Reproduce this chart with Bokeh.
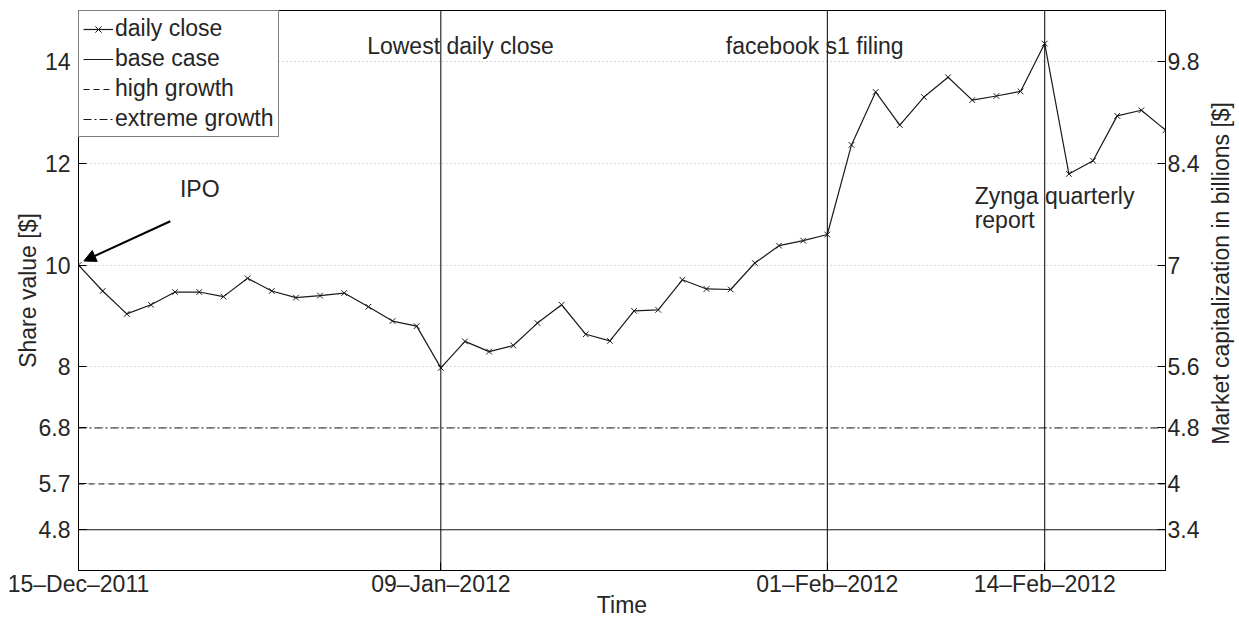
import math
import pandas as pd
from bokeh.plotting import figure
from bokeh.layouts import row
from bokeh.models import (Range1d, LinearAxis, FixedTicker, CustomJSTickFormatter,
                          Legend, LegendItem, Span, Label, Arrow, NormalHead)
from bokeh.embed import file_html
from bokeh.resources import INLINE

# ---------------- data ----------------
holidays = ["2011-12-26", "2012-01-02", "2012-01-16", "2012-02-20"]
dates = pd.bdate_range("2011-12-15", "2012-02-22", freq="C", holidays=holidays)

daily_close = [10.00, 9.49, 9.04, 9.22, 9.47, 9.47, 9.38, 9.74, 9.49, 9.36,
               9.40, 9.45, 9.18, 8.90, 8.80, 7.98, 8.50, 8.30, 8.42, 8.86,
               9.22, 8.64, 8.51, 9.10, 9.12, 9.71, 9.53, 9.52, 10.04, 10.38,
               10.48, 10.60, 12.36, 13.40, 12.75, 13.30, 13.69, 13.24, 13.32, 13.41,
               14.35, 11.79, 12.05, 12.93, 13.04, 12.65]

x_tick_dates = ["2011-12-15", "2012-01-09", "2012-02-01", "2012-02-14"]
x_tick_labels = ["15\u2013Dec\u20132011", "09\u2013Jan\u20132012",
                 "01\u2013Feb\u20132012", "14\u2013Feb\u20132012"]

event_dates = ["2012-01-09", "2012-02-01", "2012-02-14"]

scenario_names = ["base case", "high growth", "extreme growth"]
scenario_values = [4.8, 5.7, 6.8]

left_ticks = [4.8, 5.7, 6.8, 8, 10, 12, 14]
left_tick_labels = ["4.8", "5.7", "6.8", "8", "10", "12", "14"]
right_tick_labels = ["3.4", "4", "4.8", "5.6", "7", "8.4", "9.8"]
shares_billion = 0.7  # market cap (billions) per $ of share value

# ---------------- derived ----------------
x = list(range(len(daily_close)))
x_ticks = [dates.get_loc(pd.Timestamp(d)) for d in x_tick_dates]
events = [dates.get_loc(pd.Timestamp(d)) for d in event_dates]

FONT = "Liberation Sans"
FS = "23px"
TXT = "#262626"
H = 620

p = figure(width=1205, height=H, output_backend="svg", toolbar_location=None,
           x_range=Range1d(0, len(x) - 1), y_range=Range1d(4, 15),
           min_border_left=78, min_border_right=40, min_border_top=10, min_border_bottom=48)
p.extra_y_ranges = {"cap": Range1d(4 * shares_billion, 15 * shares_billion)}

p.outline_line_color = "black"
p.outline_line_width = 1
p.background_fill_color = "white"
p.border_fill_color = "white"

# grid
p.xgrid.visible = False
p.ygrid.ticker = FixedTicker(ticks=left_ticks)
p.ygrid.grid_line_color = "#b0b0b0"
p.ygrid.grid_line_dash = "1 3"
p.ygrid.grid_line_width = 1

def style_axis(ax):
    ax.axis_line_color = "black"
    ax.major_tick_line_color = "black"
    ax.major_tick_in = 8
    ax.major_tick_out = 0
    ax.minor_tick_line_color = None
    ax.major_label_text_font = FONT
    ax.major_label_text_font_size = FS
    ax.major_label_text_color = TXT
    ax.axis_label_text_font = FONT
    ax.axis_label_text_font_size = FS
    ax.axis_label_text_color = TXT
    ax.axis_label_text_font_style = "normal"

# x axis
xa = p.xaxis[0]
style_axis(xa)
xa.ticker = FixedTicker(ticks=x_ticks)
xa.formatter = CustomJSTickFormatter(args=dict(labels=x_tick_labels),
                                     code="return labels[index];")
xa.axis_label = "Time"
xa.major_label_standoff = 0
xa.axis_label_standoff = -8

# left axis
ya = p.yaxis[0]
style_axis(ya)
ya.ticker = FixedTicker(ticks=left_ticks)
ya.formatter = CustomJSTickFormatter(args=dict(labels=left_tick_labels),
                                     code="return labels[index];")
ya.axis_label = "Share value [$]"
ya.major_label_standoff = 8
ya.axis_label_standoff = -5

# right axis
ra = LinearAxis(y_range_name="cap")
style_axis(ra)
ra.ticker = FixedTicker(ticks=[v * shares_billion for v in left_ticks])
ra.formatter = CustomJSTickFormatter(args=dict(labels=right_tick_labels),
                                     code="return labels[index];")
ra.major_label_standoff = 2
p.add_layout(ra, "right")

# scenario lines
dashes = ["solid", "6 4", "8 3 2 3"]
scen_renderers = []
for v, d in zip(scenario_values, dashes):
    r = p.line(x=[x[0], x[-1]], y=[v, v], line_color="#1a1a1a", line_width=1, line_dash=d)
    scen_renderers.append(r)

# event lines
for e in events:
    p.add_layout(Span(location=e, dimension="height", line_color="black", line_width=1))

# daily close
l1 = p.line(x=x, y=daily_close, line_color="#1a1a1a", line_width=1.2)
s1 = p.scatter(x=x, y=daily_close, marker="x", size=8, line_color="#1a1a1a", line_width=1)

# annotations
def lab(xv, yv, t):
    p.add_layout(Label(x=xv, y=yv, text=t, text_font=FONT, text_font_size=FS,
                       text_color=TXT, text_baseline="middle", text_align="left"))

lab(11.95, 14.3, "Lowest daily close")
lab(26.8, 14.3, "facebook s1 filing")
lab(37.1, 11.35, "Zynga quarterly")
lab(37.1, 10.88, "report")
lab(4.2, 11.49, "IPO")
p.add_layout(Arrow(end=NormalHead(size=12, fill_color="black", line_color="black"),
                   x_start=3.8, y_start=10.86, x_end=0.22, y_end=10.08,
                   line_color="black", line_width=2))

# legend
items = [LegendItem(label="daily close", renderers=[l1, s1])]
for n, r in zip(scenario_names, scen_renderers):
    items.append(LegendItem(label=n, renderers=[r]))
legend = Legend(items=items, location="top_left", margin=0, padding=4,
                spacing=3, glyph_width=30, glyph_height=22, label_standoff=2,
                label_text_font=FONT, label_text_font_size=FS, label_text_color=TXT,
                border_line_color="black", border_line_width=1,
                background_fill_color="white", background_fill_alpha=1)
p.add_layout(legend)

# right-hand axis title (reads bottom-to-top), drawn in a narrow strip
p2 = figure(width=30, height=H, output_backend="svg", toolbar_location=None,
            x_range=Range1d(0, 1), y_range=Range1d(0, 1), min_border=0)
p2.axis.visible = False
p2.grid.visible = False
p2.outline_line_color = None
p2.border_fill_color = "white"
p2.add_layout(Label(x=0.5, y=1 - 291 / H, text="Market capitalization in billions [$]",
                    angle=math.pi / 2, text_align="center", text_baseline="middle",
                    text_font=FONT, text_font_size=FS, text_color=TXT))

layout = row(p, p2, spacing=0)
open("out.html", "w").write(file_html(layout, INLINE))
